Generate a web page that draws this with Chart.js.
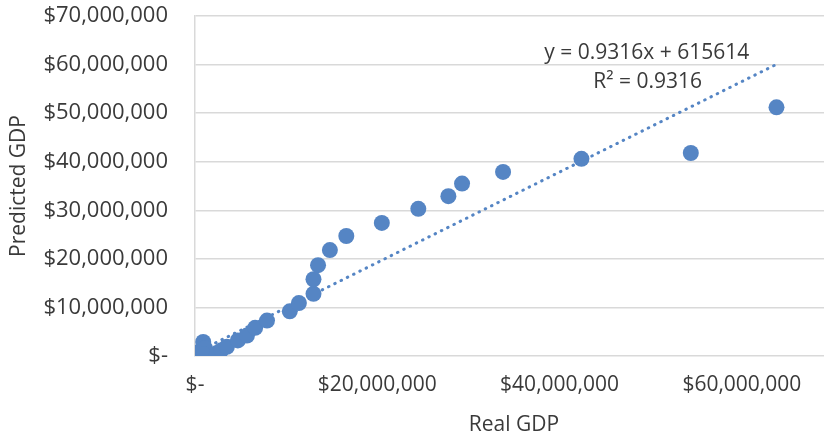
<!DOCTYPE html>
<html>
<head>
<meta charset="utf-8">
<script src="https://cdn.jsdelivr.net/npm/chart.js@4.4.1/dist/chart.umd.min.js"></script>
<style>
    html, body { margin: 0; padding: 0; background: #fff; overflow: hidden; }
    /* plot area runs past the right edge of the window, as in the original */
    #wrap { position: relative; width: 841px; height: 438px; }
    #gdpChart { display: block; }
</style>
</head>
<body>
<div id="wrap"><canvas id="gdpChart"></canvas></div>
<script>
// Real GDP vs predicted GDP, values in dollars
const realGdp = [
    200000, 500000, 900000, 1100000, 1000000, 2400000, 2900000, 3500000,
    4700000, 5700000, 6600000, 7900000, 10400000, 11400000, 13000000, 13000000,
    13500000, 14800000, 16600000, 20500000, 24500000, 27800000, 29300000,
    33800000, 42400000, 54400000, 63800000
];
const predictedGdp = [
    400000, 900000, 2900000, 1600000, 300000, 600000, 1200000, 1900000,
    3200000, 4200000, 5800000, 7300000, 9200000, 10900000, 12800000, 15800000,
    18700000, 21800000, 24700000, 27400000, 30300000, 32900000, 35500000,
    37900000, 40600000, 41800000, 51200000
];

// Linear trendline as printed on the chart
const trendSlope = 0.9316;
const trendIntercept = 615614;
const trendLabel = 'y = 0.9316x + 615614';
const r2Label = 'R\u00B2 = 0.9316';

const xTicks = [0, 20000000, 40000000, 60000000];
const yTicks = [0, 10000000, 20000000, 30000000, 40000000, 50000000, 60000000, 70000000];

const fontFamily = '"Open Sans", "Liberation Sans", sans-serif';
const textColor = '#3a3a3a';
const blue = '#5585c4';

// Excel-like accounting format: $- for zero
function money(v) {
    if (v === 0) return '$-';
    return '$' + v.toLocaleString('en-US');
}

const points = realGdp.map((x, i) => ({ x: x, y: predictedGdp[i] }));
const xMin = Math.min(...realGdp);
const xMax = Math.max(...realGdp);
const trendPoints = [xMin, xMax].map(x => ({ x: x, y: trendSlope * x + trendIntercept }));

// Draws the trendline equation text
const equationPlugin = {
    id: 'equation',
    afterDatasetsDraw(chart) {
        const ctx = chart.ctx;
        const cx = chart.scales.x.getPixelForValue(50000000);
        ctx.save();
        ctx.font = '21px ' + fontFamily;
        ctx.fillStyle = textColor;
        ctx.textAlign = 'center';
        ctx.textBaseline = 'middle';
        ctx.fillText(trendLabel, cx - 4, 53);
        ctx.fillText(r2Label, cx - 3, 82);
        ctx.restore();
    }
};

new Chart(document.getElementById('gdpChart'), {
    type: 'scatter',
    data: {
        datasets: [
            {
                label: 'Predicted GDP',
                data: points,
                backgroundColor: blue,
                borderColor: blue,
                pointRadius: 8,
                pointBorderWidth: 0,
                order: 1
            },
            {
                type: 'line',
                label: 'Linear trend',
                data: trendPoints,
                borderColor: blue,
                borderWidth: 3,
                borderDash: [0.5, 6.5],
                borderCapStyle: 'round',
                pointRadius: 0,
                fill: false,
                order: 2
            }
        ]
    },
    options: {
        responsive: true,
        maintainAspectRatio: false,
        animation: false,
        layout: { padding: { top: 16, right: 0, bottom: 0, left: 0 } },
        plugins: {
            legend: { display: false },
            tooltip: { enabled: false }
        },
        scales: {
            x: {
                type: 'linear',
                min: 0,
                max: 70000000,
                afterBuildTicks: axis => { axis.ticks = xTicks.map(v => ({ value: v })); },
                afterFit: axis => {
                    axis.height = 82;
                    axis.paddingLeft = 0;
                    axis.paddingRight = 0;
                },
                grid: { display: false, drawTicks: false },
                border: { display: false },
                ticks: {
                    padding: 16,
                    maxRotation: 0,
                    color: textColor,
                    font: { family: fontFamily, size: 21 },
                    callback: v => money(v)
                },
                title: {
                    display: true,
                    text: 'Real GDP',
                    color: textColor,
                    font: { family: fontFamily, size: 21 },
                    padding: { top: 6, bottom: 0 }
                }
            },
            y: {
                type: 'linear',
                min: 0,
                max: 70000000,
                afterBuildTicks: axis => { axis.ticks = yTicks.map(v => ({ value: v })); },
                afterFit: axis => {
                    axis.width = 195;
                    axis.paddingTop = 0;
                    axis.paddingBottom = 0;
                },
                grid: { color: '#d9d9d9', lineWidth: 1.5, drawTicks: false },
                border: { display: true, color: '#d9d9d9', width: 1.5 },
                ticks: {
                    padding: 27,
                    color: textColor,
                    font: { family: fontFamily, size: 22 },
                    callback: v => money(v)
                },
                title: {
                    display: true,
                    text: 'Predicted GDP',
                    color: textColor,
                    font: { family: fontFamily, size: 21 },
                    padding: { top: 6, bottom: 0 }
                }
            }
        }
    },
    plugins: [equationPlugin]
});
</script>
</body>
</html>
